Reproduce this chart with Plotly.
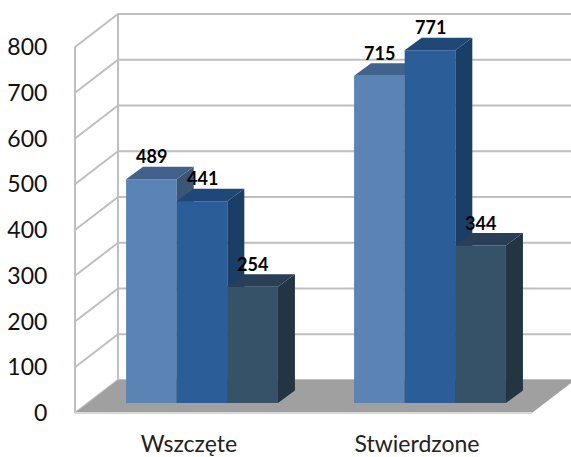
import plotly.graph_objects as go

categories = ["Wszczęte", "Stwierdzone"]
series_a = [489, 715]
series_b = [441, 771]
series_c = [254, 344]
y_ticks = [0, 100, 200, 300, 400, 500, 600, 700, 800]

series = [series_a, series_b, series_c]
front = ["#5B83B3", "#2B5E99", "#355269"]
top = ["#41628A", "#1F4876", "#283F56"]
side = ["#3B5674", "#1B3E66", "#233442"]
GRID = "#BFBFBF"
FLOOR = "#A0A0A0"
FONT = "Lato"

Y_RANGE = [-15.3, 902.7]
X_RANGE = [-0.6228, 1.6184]
BAR_W = 0.222
BAR_BASE = 22
BAR_DX, BAR_DY = 0.0746, 27.3
WALL_X = -0.557
WALL_DX, WALL_DY = 0.1886, 72.1
FLOOR_RIGHT = 1.447
LABEL_LIFT = 50
LABEL_SHIFT = -0.057

fig = go.Figure()

# walls
gx, gy = [], []
for t in y_ticks:
    gx += [WALL_X, WALL_X + WALL_DX, X_RANGE[1] + 0.1, None]
    gy += [t, t + WALL_DY, t + WALL_DY, None]
gx += [WALL_X, WALL_X, None, WALL_X + WALL_DX, WALL_X + WALL_DX]
gy += [0, y_ticks[-1], None, WALL_DY, y_ticks[-1] + WALL_DY]
fig.add_trace(go.Scatter(x=gx, y=gy, mode="lines", line=dict(color=GRID, width=2),
                         hoverinfo="skip", showlegend=False))
# floor
fig.add_trace(go.Scatter(
    x=[WALL_X, WALL_X + WALL_DX, FLOOR_RIGHT + WALL_DX, FLOOR_RIGHT, WALL_X],
    y=[0, WALL_DY, WALL_DY, 0, 0], mode="lines", fill="toself", fillcolor=FLOOR,
    line=dict(color=FLOOR, width=0), hoverinfo="skip", showlegend=False))
fig.add_trace(go.Scatter(x=[WALL_X, FLOOR_RIGHT], y=[0, 0], mode="lines",
                         line=dict(color="#D9D9D9", width=2), hoverinfo="skip", showlegend=False))

layout_extra = {}
for s, vals in enumerate(series):
    n = s + 2
    xa, ya = f"x{n}", f"y{n}"
    offs = (s - 1) * BAR_W
    xs = [i + offs for i in range(len(vals))]
    fig.add_trace(go.Bar(x=xs, y=vals, base=[BAR_BASE] * len(vals), width=BAR_W,
                         marker=dict(color=front[s], line=dict(width=0)),
                         xaxis=xa, yaxis=ya, showlegend=False, hoverinfo="skip"))
    for c, v in zip(xs, vals):
        l, r = c - BAR_W / 2, c + BAR_W / 2
        b, h = BAR_BASE, BAR_BASE + v
        fig.add_trace(go.Scatter(
            x=[r, r + BAR_DX, r + BAR_DX, r, r], y=[b, b + BAR_DY, h + BAR_DY, h, b],
            mode="lines", fill="toself", fillcolor=side[s], line=dict(width=0, color=side[s]),
            xaxis=xa, yaxis=ya, showlegend=False, hoverinfo="skip"))
        fig.add_trace(go.Scatter(
            x=[l, r, r + BAR_DX, l + BAR_DX, l], y=[h, h, h + BAR_DY, h + BAR_DY, h],
            mode="lines", fill="toself", fillcolor=top[s], line=dict(width=0, color=top[s]),
            xaxis=xa, yaxis=ya, showlegend=False, hoverinfo="skip"))
        fig.add_annotation(x=c, y=h + LABEL_LIFT, xref="x", yref="y", text=f"<b>{v}</b>",
                           showarrow=False, font=dict(family=FONT, size=18, color="black"))
    layout_extra[f"xaxis{n}"] = dict(overlaying="x", range=X_RANGE, visible=False)
    layout_extra[f"yaxis{n}"] = dict(overlaying="y", range=Y_RANGE, visible=False)

fig.update_layout(
    width=571, height=457, margin=dict(l=60, r=0, t=0, b=37),
    paper_bgcolor="white", plot_bgcolor="white", showlegend=False, hovermode=False,
    xaxis=dict(range=X_RANGE, showgrid=False, zeroline=False, showline=False, automargin=False,
               tickvals=[i + LABEL_SHIFT for i in range(len(categories))], ticktext=categories,
               ticks="outside", ticklen=3, tickcolor="rgba(0,0,0,0)",
               tickfont=dict(family=FONT, size=23, color="#222222")),
    yaxis=dict(range=Y_RANGE, showgrid=False, zeroline=False, showline=False, automargin=False,
               tickvals=y_ticks, ticks="outside", ticklen=7, tickcolor="rgba(0,0,0,0)",
               tickfont=dict(family=FONT, size=23, color="#111111")),
    **layout_extra,
)
fig.write_html("out.html", post_script="document.body.style.margin='0';",
               config={"displayModeBar": False})
